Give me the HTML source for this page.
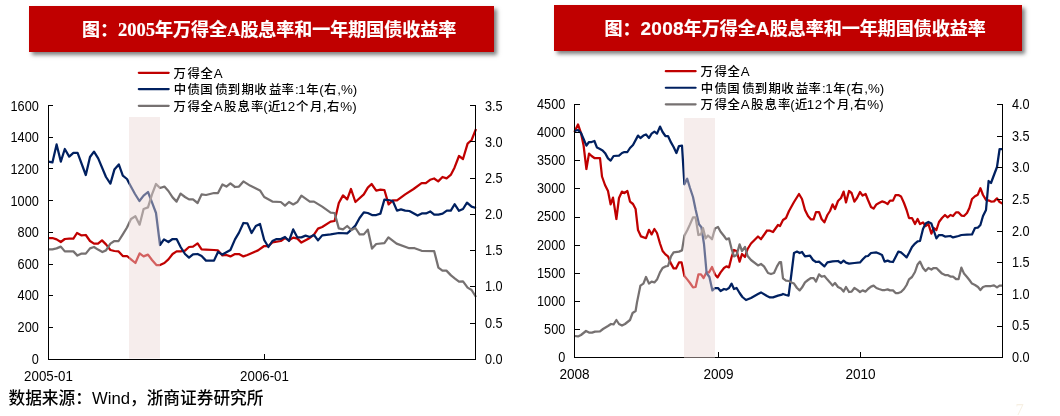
<!DOCTYPE html><html lang="zh"><head><meta charset="utf-8"><title>chart</title><style>
html,body{margin:0;padding:0;background:#fff;}
#root{position:relative;width:1060px;height:416px;overflow:hidden;background:#fff;font-family:"Liberation Sans","Noto Sans CJK SC",sans-serif;}
.banner{position:absolute;background:#c00000;box-shadow:2.5px 2.5px 4px rgba(0,0,0,.5);}
.ttl{position:absolute;white-space:nowrap;color:#fff;font-weight:bold;font-size:18px;-webkit-text-stroke:0.2px #fff;line-height:24px;font-family:"Liberation Sans","Noto Sans CJK SC",sans-serif;}
.ttl .n{font-size:19px;letter-spacing:.25px;}
.ttl .s{font-family:"Liberation Serif",serif;font-size:18.5px;}
svg{position:absolute;left:0;top:0;}
svg text{font-family:"Liberation Sans","Noto Sans CJK SC",sans-serif;font-size:13.33px;fill:#000;}
svg text.lg{font-size:12.4px;font-weight:500;} svg text.lg .la{font-size:13.33px;}
.src{position:absolute;left:8.5px;top:386.8px;font-size:16.7px;line-height:24px;color:#000;font-weight:500;white-space:nowrap;}
.pg{position:absolute;left:1015.6px;top:399.5px;font-family:"Liberation Serif",serif;font-size:16.5px;line-height:20px;color:#f7f0e3;}
</style></head><body><div id="root">
<div class="banner" style="left:29px;top:5.5px;width:465px;height:46px"></div>
<div class="banner" style="left:554px;top:5px;width:468px;height:46px"></div>
<div class="ttl" id="t1" style="left:82px;top:17.9px">图：<span class="s">2005</span>年万得全<span class="s">A</span>股息率和一年期国债收益率</div>
<div class="ttl" id="t2" style="left:604.5px;top:17px">图：<span class="n">2008</span>年万得全<span class="n">A</span>股息率和一年期国债收益率</div>
<svg width="1060" height="416" viewBox="0 0 1060 416">
<polyline fill="none" stroke="#c00000" stroke-width="2.25" stroke-linejoin="round" stroke-linecap="butt" points="48.4,238 52.4,238 56.6,239.4 60.8,242 64.8,239 69.2,238.6 73.4,238.6 77,233 81.6,235.4 85.8,235 90,241 94,243.6 98,243.6 102,240.4 106,244.4 110.4,250 114.4,251 118.6,251.4 122.8,256 127,256 131,259.4 135.4,263 139.6,253.4 143.6,256.4 148,254.6 152,260 156.4,265 160,265 164.4,263 168.4,259.4 172.6,254 176.6,251.4 180.6,251.4 185,250.6 189,247 193,246.6 197.6,243.4 201.6,249.4 206,249.6 214,250 218,250.4 222.4,255.4 226.4,255 230.4,256.4 235,254 239,254 243.4,256.4 247.4,255 252,253 258,250.4 264.2,246 268.4,246 272.4,242.4 280.8,241 285,238 289,240.4 293.2,237.6 297.4,238.6 301.4,242.6 309.8,238 314,234.6 318,228.6 322.2,227 330.6,221.6 334.6,221 338.8,203 343,195.4 347.2,199.4 351,189 355.4,202 363.8,194.4 367.8,187.6 371.6,184 376.2,190.6 380.4,189.6 384.4,190 388.6,204.4 392.8,200.4 397,200.4 405.2,194.4 413.6,189 421.6,183.2 425.8,183.2 430.1,179.8 434.1,178.5 438.2,181.4 442.5,177 446.6,178.4 451,174.6 454.6,167.4 459,156 463,159 467.6,143.6 471.6,140 476,129"/>
<polyline fill="none" stroke="#002060" stroke-width="2.25" stroke-linejoin="round" stroke-linecap="butt" points="48.4,161.6 52.4,162.4 56.6,144.4 60.8,161.6 64.8,149 69.2,156.6 73.4,152.8 77.6,152.8 85.8,175 90,157 94,151.6 98.2,158.4 106,177 110.4,183.6 114.4,169.6 118.8,164.4 122.8,175.6 127,179 129,183 135,194 139.4,201 143.6,195.6 148,192 152,202.4 156,213 160,245 164,239.4 168.4,242 172.6,239 176.6,239 180.6,247 185,254 189,257.6 193,254.4 197.6,254 201.6,256 206,260.6 214,260.6 218,252 222.4,254.6 230.4,250 235,239.4 239,232.6 243.4,223 247.4,223.4 251.6,233 255.8,226 260,224 264.2,240 268.4,247 272.4,241 276.6,239 280.8,239 285,237 289,241 293.2,229.4 297.4,237.4 301.4,237.4 305.6,235.6 309.8,237 314,235 318,240.4 322.2,235.4 330.6,234.4 338.8,233 347.2,233.4 351.4,229.6 355.4,225.6 359.6,218 363.8,212.4 367.8,213 372,215 376.2,215 380.4,213.6 384.4,199.6 388.6,200 392.8,201 397,210.6 401,209.4 405.2,210.6 409.4,211 417.6,215.6 421.8,213.4 426,213.4 430.2,211.4 434.2,214.6 438.4,214.6 442.6,213.6 446.8,210.6 450.8,210.6 454.6,204.2 459,210.8 463,209 467,202.6 471.6,206.6 476,208"/>
<polyline fill="none" stroke="#767171" stroke-width="2.25" stroke-linejoin="round" stroke-linecap="butt" points="48.4,249.4 52.4,249.4 56.6,248.4 60.8,246.6 64.8,251.4 69.2,251.4 73.4,251.4 77.4,255.6 81.6,253.6 85.8,253.6 90,248.4 94,247 98,249.6 102.4,252 106,250.4 110.4,243.6 114.4,241 118.6,241 122.8,234.4 127,227.5 131,219 135.4,216.3 139.6,224.7 143.6,209 148,207.4 152,194.4 156,184 160,188 164.4,186.6 168.4,191 172.6,197.4 176.6,201.6 180.6,193.6 185,197 189,199.4 193,199.4 197.6,203 201.6,194.4 206,195 214,193 218,193 222.4,184.4 226.4,186.6 230.4,183.4 235,187 239,186.6 243.4,181.4 250,185.6 260,190.4 264.2,197 272.4,201.6 280.8,202 285,205.6 289,202 293.2,204.4 297.4,202 301.4,195.6 309.8,201.6 314,201.6 322.2,206.6 330.6,212.6 334.6,213 338.8,228.4 343,229.4 347.2,226 351.4,230 355.4,228 359.6,234.4 363.8,234.4 367.8,229.6 372,248.6 376.2,244 384.4,243.2 388.4,237.4 396.6,243.6 409.2,248.2 414,248 421.6,250.8 434.2,251.2 438.4,267.6 442.4,270.6 446.4,270.6 451,275.4 455,278.6 459,281.6 463,281.4 467.6,287.6 471.6,290 476,297"/>
<rect x="129" y="117" width="31" height="241.5" fill="rgb(236,214,212)" fill-opacity="0.45"/>
<g stroke="#000" stroke-width="1" fill="none" shape-rendering="crispEdges">
<path d="M48.5 105.0 V359.5 H475.5 V105.0"/>
<path d="M48.5 105.50 h4.5"/>
<path d="M48.5 137.50 h4.5"/>
<path d="M48.5 168.50 h4.5"/>
<path d="M48.5 200.50 h4.5"/>
<path d="M48.5 232.50 h4.5"/>
<path d="M48.5 264.50 h4.5"/>
<path d="M48.5 295.50 h4.5"/>
<path d="M48.5 327.50 h4.5"/>
<path d="M48.5 359.50 h4.5"/>
<path d="M475.5 105.50 h-5.5"/>
<path d="M475.5 141.50 h-5.5"/>
<path d="M475.5 178.50 h-5.5"/>
<path d="M475.5 214.50 h-5.5"/>
<path d="M475.5 250.50 h-5.5"/>
<path d="M475.5 286.50 h-5.5"/>
<path d="M475.5 323.50 h-5.5"/>
<path d="M475.5 359.50 h-5.5"/>
<path d="M264.5 359.5 v-6"/>
</g>
<text transform="translate(38.8 110.85) scale(.955 1.047)" text-anchor="end">1600</text>
<text transform="translate(38.8 142.46) scale(.955 1.047)" text-anchor="end">1400</text>
<text transform="translate(38.8 174.06) scale(.955 1.047)" text-anchor="end">1200</text>
<text transform="translate(38.8 205.67) scale(.955 1.047)" text-anchor="end">1000</text>
<text transform="translate(38.8 237.28) scale(.955 1.047)" text-anchor="end">800</text>
<text transform="translate(38.8 268.88) scale(.955 1.047)" text-anchor="end">600</text>
<text transform="translate(38.8 300.49) scale(.955 1.047)" text-anchor="end">400</text>
<text transform="translate(38.8 332.09) scale(.955 1.047)" text-anchor="end">200</text>
<text transform="translate(38.8 363.70) scale(.955 1.047)" text-anchor="end">0</text>
<text transform="translate(485 110.85) scale(.955 1.047)">3.5</text>
<text transform="translate(485 146.97) scale(.955 1.047)">3.0</text>
<text transform="translate(485 183.09) scale(.955 1.047)">2.5</text>
<text transform="translate(485 219.21) scale(.955 1.047)">2.0</text>
<text transform="translate(485 255.34) scale(.955 1.047)">1.5</text>
<text transform="translate(485 291.46) scale(.955 1.047)">1.0</text>
<text transform="translate(485 327.58) scale(.955 1.047)">0.5</text>
<text transform="translate(485 363.70) scale(.955 1.047)">0.0</text>
<text transform="translate(48.5 381) scale(1.0 1.047)" text-anchor="middle">2005-01</text>
<text transform="translate(264.5 381) scale(1.0 1.047)" text-anchor="middle">2006-01</text>
<path d="M138.8 72.8 H168.7" stroke="#c00000" stroke-width="2.2" stroke-linecap="round" fill="none"/>
<text class="lg" text-anchor="middle" x="179.6 193.7 206.7 218.1" y="77.80">万得全<tspan class="la">A</tspan></text>
<path d="M138.8 89.1 H168.7" stroke="#002060" stroke-width="2.2" stroke-linecap="round" fill="none"/>
<text class="lg" text-anchor="middle" x="179.9 193.7 206.4 221.4 234.0 247.8 260.4 275.1 287.8 296.9 302.0 312.5 321.5 330.1 339.2 347.0 355.1" y="94.10">中债国债到期收益率<tspan class="la">:1</tspan>年<tspan class="la">(</tspan>右<tspan class="la">,%)</tspan></text>
<path d="M138.8 105.8 H168.7" stroke="#767171" stroke-width="2.2" stroke-linecap="round" fill="none"/>
<text class="lg" text-anchor="middle" x="179.6 193.7 206.7 218.1 230.1 243.6 257.1 265.6 274.3 283.4 291.4 302.3 316.3 324.7 333.2 346.1 354.5" y="110.80">万得全<tspan class="la">A</tspan>股息率<tspan class="la">(</tspan>近<tspan class="la">12</tspan>个月<tspan class="la">,</tspan>右<tspan class="la">%)</tspan></text>
<polyline fill="none" stroke="#c00000" stroke-width="2.25" stroke-linejoin="round" stroke-linecap="butt" points="574.4,132 578,124.4 581,133 583.6,145.6 586.4,169 589,153.6 591.6,156 594.4,158 600,158 602,176.5 605,185 608,191 610.6,204.4 613,197.6 616.4,219 619,198 622,191.6 624.4,193 627.4,191 630,201.6 633,204 635.6,209 638,230 641,236.4 646,238.2 649,229.8 651.6,234.4 654.4,229 657,233 660,243.5 662.6,251 665.4,254.4 668,256.4 671,263.6 673.6,268.4 676,268.4 679,262.4 681.6,262.4 684.4,276 687.4,279.6 690,283 693,287.4 695.6,287 698.4,274.4 701,274.4 703.6,278 706.4,272.4 709,272.4 712,267 715,274.4 717.6,277.4 720.6,272.4 724,268 726.4,266.4 729,267.4 731.6,257 734,250 736.6,251 739.6,261.6 742,254 745,257 747.6,249 751,243.5 758,236.5 761,239.2 767,230.5 770,230.7 773,232 778,225 780,226 783,220 786,218 789,211 794,202 799,194 802,199 805,210 808,216 811,219.4 813.6,219.4 816,212 819,212 821.6,219 824.4,222.4 827.4,215 830,211 832.6,204.4 835,209 838,201 841,198 843.6,191.6 846,202.4 849,191 851.6,193 854.4,201.6 857,198 860,192 862.6,195.6 865.6,194 868,200 871,207 873.6,208.6 876.4,204.4 879,203 882,201.4 885,202.4 887.6,204 890,200.6 893,200.6 895.6,195 898.4,195 901,196.4 904,203 906.6,210 909,218 912,218 915,224 917.6,219 920,224 923,222.4 925.6,226 928.4,224 931.4,233.6 933.6,228 936.4,230 939,222 942,218 945,215 947.6,217.4 950.4,215 953,216 956,212.4 958.6,212.4 961.4,215.6 964,216 967,213 969.4,208 972,199 975,196.2 977.8,194.7 980.4,188.2 983,195 986,199.8 989,200.6 991,201.6 994,201.4 997,198.4 999.6,202 1002.4,203.6"/>
<polyline fill="none" stroke="#002060" stroke-width="2.25" stroke-linejoin="round" stroke-linecap="butt" points="574.4,131 578,130 581,133 583.6,139 586.4,145.6 589,142 591.6,142 594.4,141 597,147.6 600,149 602.6,150.4 605.4,153.6 608,158.4 610.6,160.6 613.6,156 619,155.6 622,153 624.4,152 627.4,152 630,148 633,145 638,135.6 640.4,138 643.4,135.6 646,134.4 649,138 651.6,133.6 654.4,131.6 657,133.6 660,126.6 662.6,132 665.4,136 668,136 671,142.4 673.6,147 676.4,153 679,146 682,145.6 684.4,184.3 687.2,178.7 690,188 693,197 695.6,209.6 699,224.2 701.4,227.3 704,244 706.6,273 709.4,277 712.4,290.4 715,288 718,288 720.6,291 724,289 726.4,289.6 729,288 731.6,283.6 734,289 736.6,288 739.6,293 742.4,297 746,300 751,298 758,294 761,292.4 767,296 770,297.4 773,297.4 778,295.6 782,294.6 783,294 786,295 788.6,295.6 791.4,274 794,253 797,251.6 799.6,253 802,252 805,256.4 810,255.6 813,260 816,262 819,261.6 824.4,266.4 827.4,262.4 832.6,261.4 838,261 841,263 843.6,260.6 846,262.6 849,263.6 854.4,263 860,262.4 862.6,259.6 865.6,256.4 868,256 871,253 876.4,252.4 879,253.6 882,255 884.6,261.6 887.6,260.6 890,261.6 893,262 895.6,257 898.4,251.6 901,252.4 904,255 906.6,257.4 909,253 912,247 915,243.6 917.6,241.4 920,241 923,229 925.6,223.6 928.4,222 931.4,223.6 933.6,230 936.4,238.4 939,235 942,235 945,236.6 950.4,236 953,237.4 958.6,236 961.4,235 967,234.7 972,234.4 975,228 978,227.6 980.4,225 983,216 986,210 988.6,181 991,183 993.6,176 997,167 999.6,149 1002.4,149"/>
<polyline fill="none" stroke="#767171" stroke-width="2.25" stroke-linejoin="round" stroke-linecap="butt" points="574.4,336 578,336.4 581,335 586,331 589,332.6 592,332.6 595,331.6 600,331.4 603,329 608,326 611,324 613.6,324.4 616.4,320 619,324 622,325.6 625,324 630,320 632.6,313 635.6,311 637,302.4 640.4,285.6 643.4,283.6 646,277 649,283.6 651.6,281.6 654.4,282.4 657,279.6 660,272.4 662.6,268 665.4,266.4 668,266 671,256.4 673.6,252.4 679,251.6 682,250.4 684.4,235.6 687.4,230 690,224.4 693,217.4 695.6,217.4 698.4,235 701,234.4 703,228 705.6,238.4 708,235.5 712,239.2 715,228.4 718,227 720.6,231.8 724,236 726.4,239.4 729,238.4 731.6,249 734,256.4 736.6,255 739.6,244.4 742,251 745,247 747.6,256 751,260 758,265.4 761,264 764,266.4 768,273 771,274 774,273 777,266.4 779.6,262 781,262 783,278.4 786,280.6 789,281 791.4,282.4 794,283.6 797,288 799.6,290.4 802,287.6 805,282.4 808,280 811,278 813.6,278 816,281.6 819,274.4 821.6,276.6 824.4,276 827.4,279.6 830,282.4 832.6,285.6 835,283 838,287 841,288.6 843.6,291.6 846,287 849,292 851.6,291.6 854.4,288 857,289.6 860,292 862.6,290.4 865.6,291.6 868,289 871,286.6 873.6,285.6 876.4,288 879,289 882,290 885,290 887.6,289.4 890,290.4 893,290.4 895.6,293 898.4,293 901,292 904,289 906.6,285 909,279.4 912,277 915,272 917.6,264.4 920,261.6 923,268 925.6,271 928.4,268 931.4,269.6 933.6,268 936.4,268 939,270.6 942,273.6 945,275 947.6,275 950.4,276.6 953,276.6 956,279 958.6,279 961.4,267.6 964,273.6 967,277 969.4,280 972,283.6 975,285 978,287 980.4,290 983,287 986,286 991,286 994,285.4 997,287.4 999.6,285.6 1002.4,285.6"/>
<g stroke="#000" stroke-width="1" fill="none" shape-rendering="crispEdges">
<path d="M574.5 104.0 V357.5 H1002.5 V104.0"/>
<path d="M574.5 104.50 h5.5"/>
<path d="M574.5 132.50 h5.5"/>
<path d="M574.5 160.50 h5.5"/>
<path d="M574.5 188.50 h5.5"/>
<path d="M574.5 217.50 h5.5"/>
<path d="M574.5 245.50 h5.5"/>
<path d="M574.5 273.50 h5.5"/>
<path d="M574.5 301.50 h5.5"/>
<path d="M574.5 329.50 h5.5"/>
<path d="M574.5 357.50 h5.5"/>
<path d="M1002.5 104.50 h-5.5"/>
<path d="M1002.5 136.50 h-5.5"/>
<path d="M1002.5 167.50 h-5.5"/>
<path d="M1002.5 199.50 h-5.5"/>
<path d="M1002.5 231.50 h-5.5"/>
<path d="M1002.5 262.50 h-5.5"/>
<path d="M1002.5 294.50 h-5.5"/>
<path d="M1002.5 326.50 h-5.5"/>
<path d="M1002.5 357.50 h-5.5"/>
<path d="M718.5 357.5 v-6"/>
<path d="M860.5 357.5 v-6"/>
</g>
<rect x="684" y="118" width="31" height="240.0" fill="rgb(236,214,212)" fill-opacity="0.45"/>
<text transform="translate(565.3 108.90) scale(.955 1.047)" text-anchor="end">4500</text>
<text transform="translate(565.3 137.04) scale(.955 1.047)" text-anchor="end">4000</text>
<text transform="translate(565.3 165.18) scale(.955 1.047)" text-anchor="end">3500</text>
<text transform="translate(565.3 193.32) scale(.955 1.047)" text-anchor="end">3000</text>
<text transform="translate(565.3 221.46) scale(.955 1.047)" text-anchor="end">2500</text>
<text transform="translate(565.3 249.59) scale(.955 1.047)" text-anchor="end">2000</text>
<text transform="translate(565.3 277.73) scale(.955 1.047)" text-anchor="end">1500</text>
<text transform="translate(565.3 305.87) scale(.955 1.047)" text-anchor="end">1000</text>
<text transform="translate(565.3 334.01) scale(.955 1.047)" text-anchor="end">500</text>
<text transform="translate(565.3 362.15) scale(.955 1.047)" text-anchor="end">0</text>
<text transform="translate(1012 108.90) scale(.955 1.047)">4.0</text>
<text transform="translate(1012 140.56) scale(.955 1.047)">3.5</text>
<text transform="translate(1012 172.21) scale(.955 1.047)">3.0</text>
<text transform="translate(1012 203.87) scale(.955 1.047)">2.5</text>
<text transform="translate(1012 235.53) scale(.955 1.047)">2.0</text>
<text transform="translate(1012 267.18) scale(.955 1.047)">1.5</text>
<text transform="translate(1012 298.84) scale(.955 1.047)">1.0</text>
<text transform="translate(1012 330.49) scale(.955 1.047)">0.5</text>
<text transform="translate(1012 362.15) scale(.955 1.047)">0.0</text>
<text transform="translate(574.5 378.8) scale(1.02 1.047)" text-anchor="middle">2008</text>
<text transform="translate(718.5 378.8) scale(1.02 1.047)" text-anchor="middle">2009</text>
<text transform="translate(860.5 378.8) scale(1.02 1.047)" text-anchor="middle">2010</text>
<path d="M665.8 71.2 H695.6" stroke="#c00000" stroke-width="2.2" stroke-linecap="round" fill="none"/>
<text class="lg" text-anchor="middle" x="706.6 720.7 733.7 745.1" y="76.20">万得全<tspan class="la">A</tspan></text>
<path d="M665.8 87.75 H695.6" stroke="#002060" stroke-width="2.2" stroke-linecap="round" fill="none"/>
<text class="lg" text-anchor="middle" x="706.9 720.7 733.4 748.4 761.0 774.8 787.4 802.1 814.8 823.9 829.0 839.5 848.5 857.1 866.2 874.0 882.1" y="92.75">中债国债到期收益率<tspan class="la">:1</tspan>年<tspan class="la">(</tspan>右<tspan class="la">,%)</tspan></text>
<path d="M665.8 104.3 H695.6" stroke="#767171" stroke-width="2.2" stroke-linecap="round" fill="none"/>
<text class="lg" text-anchor="middle" x="706.6 720.7 733.7 745.1 757.1 770.6 784.1 792.6 801.3 810.4 818.4 829.3 843.3 851.7 860.2 873.1 881.5" y="109.30">万得全<tspan class="la">A</tspan>股息率<tspan class="la">(</tspan>近<tspan class="la">12</tspan>个月<tspan class="la">,</tspan>右<tspan class="la">%)</tspan></text>
</svg>
<div class="src">数据来源：Wind，浙商证券研究所</div>
<div class="pg">7</div>
</div></body></html>
